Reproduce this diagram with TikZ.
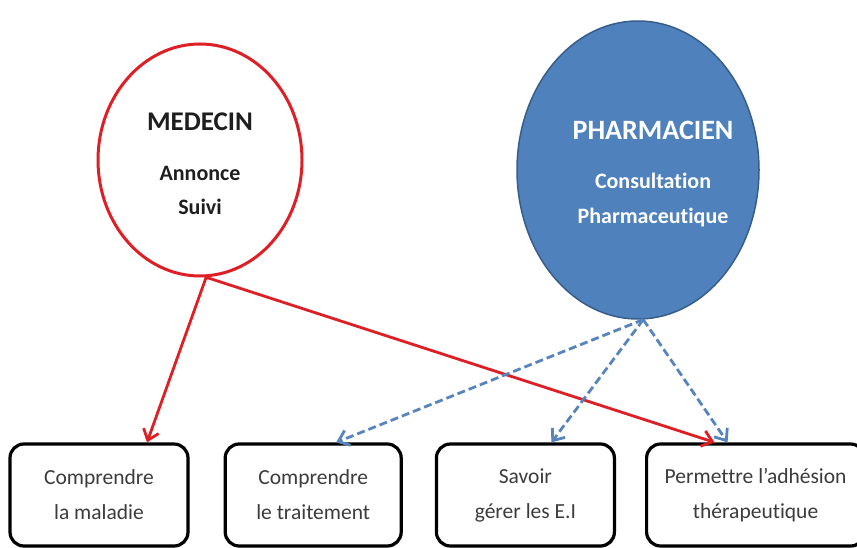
\documentclass[tikz,border=0pt]{standalone}
\usepackage{fontspec}
\setmainfont{Carlito}[Ligatures=NoCommon]
\usepackage{xcolor}
\usepackage{tikz}
\usetikzlibrary{
	arrows.meta,
	positioning,
	shapes.geometric,
	shadows,
	}

\definecolor{medred}{RGB}{222,32,38}
\definecolor{phablue}{RGB}{79,129,189}
\definecolor{phaline}{RGB}{56,93,138}
\definecolor{dashblue}{RGB}{88,132,190}
\definecolor{boxtext}{RGB}{60,60,60}
\definecolor{titletext}{RGB}{30,30,30}

\tikzset{
	goal/.style={draw, line width=3.2pt, rounded corners=14pt, fill=white,
		minimum width=178pt, minimum height=102pt, align=center, text=boxtext,
		font=\fontsize{21.5}{35}\selectfont,
		drop shadow={opacity=0.3, shadow xshift=1.5pt, shadow yshift=-1.5pt}},
	redarrow/.style={-{Straight Barb[length=10pt, width=16pt]}, medred, line width=2.8pt},
	bluearrow/.style={-{Straight Barb[length=10pt, width=16pt]}, dashblue, line width=2.8pt,
		dash pattern=on 8pt off 4pt},
	}

\begin{document}
\begin{tikzpicture}[x=1pt, y=-1pt]
			\useasboundingbox (0,0) rectangle (857,548);
			% the two actors
			\node[draw=medred, line width=3pt, ellipse, minimum width=204pt, minimum height=232pt] (med) at (200,160) {};
			\node[draw=phaline, fill=phablue, line width=1.5pt, ellipse, minimum width=242pt, minimum height=298pt] (pha) at (638,170) {};
			\node[font=\bfseries\fontsize{27}{32}\selectfont, text=titletext] (medname) at (200,122) {MEDECIN};
			\node[font=\bfseries\fontsize{22}{34}\selectfont, text=titletext, align=center] (medrole) at (200,190) {Annonce\\Suivi};
			\node[font=\bfseries\fontsize{28}{32}\selectfont, text=white] (phaname) at (653,130) {PHARMACIEN};
			\node[font=\bfseries\fontsize{22}{35}\selectfont, text=white, align=center] (pharole) at (653,200) {Consultation\\Pharmaceutique};
			% the goals
			\node[goal] (mal) at (99,495) {Comprendre\\la maladie};
			\node[goal, right=34pt of mal, minimum width=176pt] (trait) {Comprendre\\le traitement};
			\node[goal, right=32pt of trait] (ei) {Savoir\\gérer les E.I};
			\node[goal, right=29pt of ei, minimum width=218pt] (adh) {Permettre l’adhésion\\thérapeutique};
			% links
			\draw[redarrow] (med.-87) -- ([xshift=48pt]mal.north);
			\draw[redarrow] (med.-87) -- ([xshift=-41pt]adh.north);
			\draw[bluearrow] (pha.-88) -- ([xshift=23pt]trait.north);
			\draw[bluearrow] (pha.-88) -- ([xshift=26pt]ei.north);
			\draw[bluearrow] (pha.-88) -- ([xshift=-28pt]adh.north);
		\end{tikzpicture}
\end{document}
